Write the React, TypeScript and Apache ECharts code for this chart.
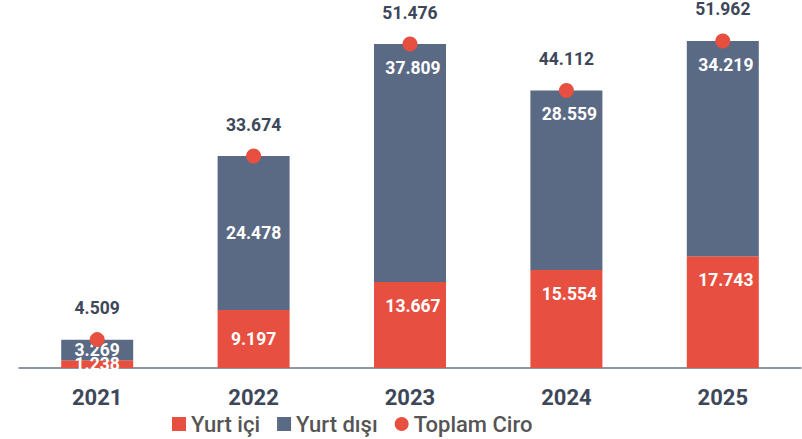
import React, { useEffect, useRef } from "react";
import * as echarts from "echarts";

const years = ["2021", "2022", "2023", "2024", "2025"];
const yurtIci = [1.238, 9.197, 13.667, 15.554, 17.743];
const yurtDisi = [3.269, 24.478, 37.809, 28.559, 34.219];
const toplam = [4.509, 33.674, 51.476, 44.112, 51.962];
// whether the in-bar labels sit near the top of their segment (as in the reference)
const labelNearTop = [false, false, true, true, true];

const fmt = (v: number) => v.toFixed(3);

const innerLabel = {
  show: true,
  position: "inside",
  formatter: (p: any) => fmt(p.value),
  color: "#fff",
  fontSize: 17.5,
  fontWeight: "bold",
};

const barData = (vals: number[]) =>
  vals.map((v, i) =>
    labelNearTop[i]
      ? { value: v, label: { position: "insideTop", distance: 15, offset: [3, 0] } }
      : { value: v }
  );

export default function App() {
  const ref = useRef<HTMLDivElement>(null);
  useEffect(() => {
    const chart = echarts.init(ref.current!, null, { renderer: "svg" });
    chart.setOption({
      animation: false,
      textStyle: { fontFamily: "Roboto" },
      grid: { left: 19, right: 1, top: 3, bottom: 71 },
      legend: {
        left: 167,
        top: 408,
        itemWidth: 14,
        itemHeight: 14,
        itemGap: 17,
        textStyle: { fontSize: 22, color: "#555555", fontFamily: "Roboto", fontWeight: 500 },
        data: [
          { name: "Yurt içi", icon: "rect" },
          { name: "Yurt dışı", icon: "rect" },
          { name: "Toplam Ciro", icon: "circle" },
        ],
      },
      xAxis: {
        type: "category",
        data: years,
        axisLine: { lineStyle: { color: "#6b7384", width: 1.5 } },
        axisTick: { show: false },
        axisLabel: { fontSize: 22, fontWeight: "bold", color: "#3d4759", margin: 18 },
      },
      yAxis: {
        type: "value",
        min: 0,
        max: 58,
        show: false,
        splitLine: { show: false },
      },
      series: [
        {
          name: "Yurt içi",
          type: "bar",
          stack: "a",
          barWidth: 72,
          data: barData(yurtIci),
          itemStyle: { color: "#e74f40" },
          label: innerLabel,
        },
        {
          name: "Yurt dışı",
          type: "bar",
          stack: "a",
          barWidth: 72,
          data: barData(yurtDisi),
          itemStyle: { color: "#5b6a84" },
          label: innerLabel,
        },
        {
          name: "Toplam Ciro",
          type: "scatter",
          data: toplam,
          symbol: "circle",
          symbolSize: 15,
          itemStyle: { color: "#e74f40", opacity: 1 },
          z: 5,
          label: {
            show: true,
            position: "top",
            distance: 15,
            formatter: (p: any) => fmt(p.value),
            color: "#3d4759",
            fontSize: 17.5,
            fontWeight: "bold",
          },
        },
      ],
    });
    return () => chart.dispose();
  }, []);
  return (
    <div
      ref={ref}
      style={{ position: "absolute", left: 0, top: 0, width: 802, height: 439, background: "#fff" }}
    />
  );
}
